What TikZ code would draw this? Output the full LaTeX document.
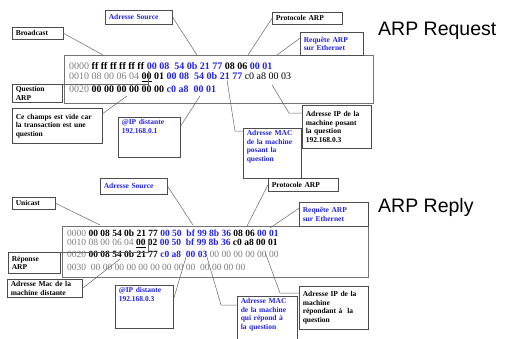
\documentclass[tikz,border=0pt]{standalone}
\usepackage{fontspec}
\setmainfont{Liberation Serif}
\newfontfamily\titlefont{Liberation Sans}
\usepackage{tikz}
\definecolor{hexblue}{RGB}{35,35,225}
\definecolor{hexgray}{RGB}{125,125,125}
\newcommand{\offs}[1]{\textcolor{hexgray}{#1}}
\newcommand{\bytk}[1]{\textbf{#1}}
\newcommand{\bytb}[1]{\textcolor{hexblue}{\textbf{#1}}}

\begin{document}
\begin{tikzpicture}[x=1pt, y=-1pt,
    box/.style={draw=black!70, line width=.6pt, anchor=north west, inner ysep=2pt, inner xsep=3.5pt,
        align=left, font=\fontsize{7.5}{8.5}\selectfont\bfseries},
    blu/.style={text=hexblue},
    sz/.style n args={2}{text width=#1, minimum height=#2},
    frm/.style={draw=black!55, line width=.8pt, anchor=north west, inner sep=0pt},
    hexreq/.style={anchor=west, inner sep=0pt, font=\fontsize{10}{12}\selectfont},
    hexrep/.style={anchor=west, inner sep=0pt, font=\fontsize{9.5}{12}\selectfont},
    lead/.style={draw=black!60, line width=.5pt},
    title/.style={anchor=west, inner sep=0pt, font=\titlefont\fontsize{19.5}{22}\selectfont}]
    \useasboundingbox (0,0) rectangle (505,338);

    % ARP request: hex dump
    \node[frm, minimum width=309pt, minimum height=48pt] (frmReq) at (64,55) {};
    \node[hexreq] (reqA) at (69,66) {\offs{0000} \bytk{ff ff ff ff ff ff} \bytb{00 08~~54 0b 21 77} \bytk{08 06} \bytb{00 01}};
    \node[hexreq] (reqB) at (69,77) {\offs{0010 08 00 06 04} \bytk{\underline{00} 01} \bytb{00 08~~54 0b 21 77} c0 a8 00 03};
    \node[hexreq] (reqC) at (69,89) {\offs{0020} \bytk{00 00 00 00 00 00} \bytb{c0 a8~~00 01}};

    % ARP request: labels
    \node[box, sz={44pt}{12pt}] (bcastReq) at (12,27) {Broadcast};
    \node[box, blu, sz={60pt}{14pt}] (srcReq) at (105,10) {Adresse Source};
    \node[box, sz={63pt}{12pt}] (protoReq) at (272,12) {Protocole ARP};
    \node[box, blu, sz={56pt}{23pt}] (opReq) at (300,32) {Requête ARP\\sur Ethernet};
    \node[box, sz={43pt}{18pt}] (questReq) at (12,84) {Question\\ARP};
    \node[box, sz={83pt}{35pt}] (videReq) at (12,108) {Ce champs est vide car\\la transaction est une\\question};
    \node[box, blu, text width=55pt, text depth=31pt] (ipReq) at (118,117) {@IP distante\\192.168.0.1};
    \node[box, blu, text width=51pt, text depth=41pt] (macReq) at (243,128) {Adresse MAC\\de la machine\\posant la\\question};
    \node[box, sz={62pt}{43pt}] (ipSrcReq) at (302,105) {Adresse IP de la\\machine posant\\la question\\192.168.0.3};
    \node[title] (titleReq) at (378,31) {ARP Request};

    % ARP request: leaders
    \coordinate (tBcastReq) at (103,55);
    \coordinate (tSrcReq) at (197,55);
    \coordinate (tProtoReq) at (248,55);
    \coordinate (tOpReq) at (277,55);
    \coordinate (tQuestReq) at (148,71);
    \coordinate (tVideReq) at (127,96);
    \coordinate (tIpReq) at (200,96);
    \coordinate (tMacReq) at (227,80);
    \coordinate (tIpSrcReq) at (272,85);
    \draw[lead] (bcastReq.east) -- (tBcastReq);
    \draw[lead] (srcReq.east) -- (tSrcReq);
    \draw[lead] (protoReq.west) -- (tProtoReq);
    \draw[lead] (opReq.170) -- (tOpReq);
    \draw[lead] (questReq.north east) -| (tQuestReq);
    \draw[lead] (videReq.15) -- (tVideReq);
    \draw[lead] (ipReq.20) -- (tIpReq);
    \draw[lead] ([yshift=-3pt]macReq.north west) -- ++(-8,0) -- (tMacReq);
    \draw[lead] ([yshift=-8pt]ipSrcReq.north west) -- ++(-13,0) -- (tIpSrcReq);

    % ARP reply: hex dump
    \node[frm, minimum width=306pt, minimum height=51pt] (frmRep) at (62,226) {};
    \node[hexrep] (repA) at (67,233) {\offs{0000} \bytk{00 08 54 0b 21 77} \bytb{00 50~~bf 99 8b 36} \bytk{08 06} \bytb{00 01}};
    \node[hexrep] (repB) at (67,243) {\offs{0010 08 00 06 04} \bytk{\underline{00} 02} \bytb{00 50~~bf 99 8b 36} \bytk{c0 a8 00 01}};
    \node[hexrep] (repC) at (67,254) {\offs{0020} \bytk{00 08 54 0b 21 77} \bytb{c0 a8~~00 03} \offs{00 00 00 00 00 00}};
    \node[hexrep] (repD) at (67,267) {\offs{0030~~00 00 00 00 00 00 00 00 00~~00 00 00 00}};

    % ARP reply: labels
    \node[box, sz={36pt}{12pt}] (ucastRep) at (12,197) {Unicast};
    \node[box, blu, sz={60pt}{16pt}] (srcRep) at (100,178) {Adresse Source};
    \node[box, sz={63pt}{13pt}] (protoRep) at (268,178) {Protocole ARP};
    \node[box, blu, sz={62pt}{24pt}] (opRep) at (299,202) {Requête ARP\\sur Ethernet};
    \node[box, sz={45pt}{21pt}] (replRep) at (8,252) {Réponse\\ARP};
    \node[box, sz={68pt}{18pt}] (macDstRep) at (7,279) {Adresse Mac de la\\machine distante};
    \node[box, blu, text width=51pt, text depth=34pt] (ipRep) at (115,285) {@IP distante\\192.168.0.3};
    \node[box, blu, text width=53pt, text depth=37pt] (macRep) at (237,296) {Adresse MAC\\de la machine\\qui répond à\\la question};
    \node[box, sz={62pt}{43pt}] (ipSrcRep) at (299,286) {Adresse IP de la\\machine\\répondant à~~la\\question};
    \node[title] (titleRep) at (378,207) {ARP Reply};

    % ARP reply: leaders
    \coordinate (tUcastRep) at (100,225);
    \coordinate (tSrcRep) at (193,225);
    \coordinate (tProtoRep) at (247,226);
    \coordinate (tOpRep) at (270,228);
    \coordinate (tReplRep) at (148,239);
    \coordinate (tMacDstRep) at (120,259);
    \coordinate (tIpRep) at (186,257);
    \coordinate (tMacRep) at (207,257);
    \coordinate (tIpSrcRep) at (265,252);
    \draw[lead] (ucastRep.east) -- (tUcastRep);
    \draw[lead] (srcRep.east) -- (tSrcRep);
    \draw[lead] (protoRep.west) -- (tProtoRep);
    \draw[lead] (opRep.170) -- (tOpRep);
    \draw[lead] (replRep.north east) -| (tReplRep);
    \draw[lead] (macDstRep.east) -- (tMacDstRep);
    \draw[lead] (ipRep.15) -- (tIpRep);
    \draw[lead] ([yshift=-9pt]macRep.north west) -- ++(-16,0) -- (tMacRep);
    \draw[lead] ([yshift=-7pt]ipSrcRep.north west) -- ++(-19,0) -- (tIpSrcRep);
\end{tikzpicture}
\end{document}
